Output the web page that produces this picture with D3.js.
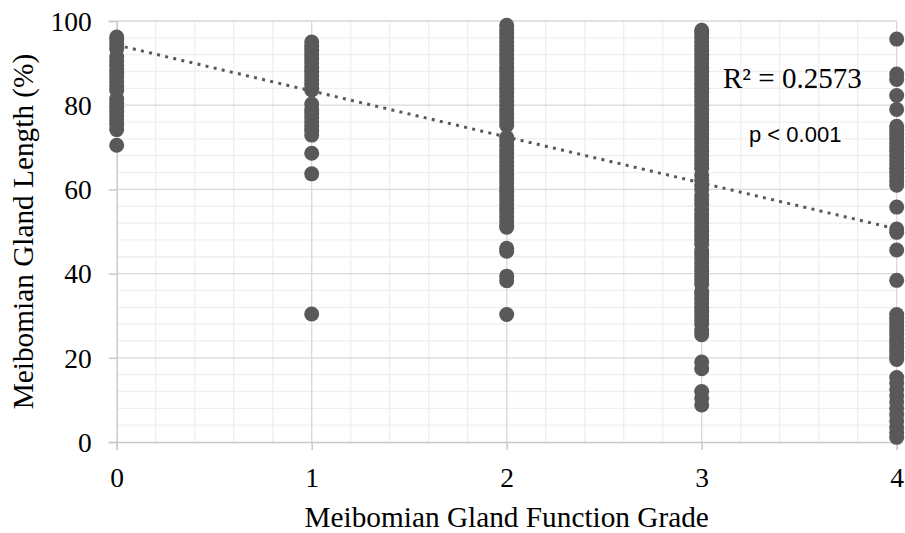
<!DOCTYPE html>
<html>
<head>
<meta charset="utf-8">
<script src="https://cdn.jsdelivr.net/npm/d3@7/dist/d3.min.js"></script>
<style>
  html, body { margin: 0; padding: 0; background: #ffffff; }
  svg { display: block; }
</style>
</head>
<body>
<svg id="chart" width="905" height="533"></svg>
<script>
// ---- Data ----
const grades = [0, 1, 2, 3, 4];
const grade0 = [96.2, 95.5, 94.5, 93.4, 91.5, 90.5, 89.5, 88.5, 87.5, 86.5, 85.5, 84.5, 83.5, 81.5, 80.5, 79.5, 78.5, 77.5, 76.5, 75.5, 74.2, 70.5];
const grade1 = [95, 94, 93, 92, 91, 90, 89, 88, 87, 86, 85, 84, 83.6, 80.3, 79, 78, 77, 76, 75, 74, 72.9, 68.6, 63.7, 30.4];
const grade2 = [99, 98, 97, 96, 95, 94, 93, 92, 91, 90, 89, 88, 87, 86, 85, 84, 83, 82, 81, 80, 79, 78, 77, 76, 75.2, 72.3, 71.5, 70.5, 69.5, 68.5, 67.5, 66.5, 65.5, 64.5, 63.5, 62.5, 61.5, 60.5, 59.5, 58.5, 57.5, 56.5, 55.5, 54.5, 53.5, 52.5, 51.5, 51, 46, 45.3, 39.4, 38.3, 30.3];
const grade3 = [97.8, 97, 96, 95, 94, 93, 92, 91, 90, 89, 88, 87, 86, 85, 84, 83, 82, 81, 80, 79, 78, 77, 76, 75, 74, 73, 72, 71, 70, 69, 68, 67, 66, 65, 63.3, 62.2, 61, 60, 58.6, 57.5, 56.5, 55.3, 54, 53, 52, 51, 50, 49, 48, 47, 45.4, 44.5, 43.5, 42.5, 41.5, 40.5, 39.5, 38.5, 37.5, 35.8, 35, 34, 33, 32, 31, 30, 29, 28, 26.5, 25.5, 19, 17.4, 12, 10.4, 8.8];
const grade4 = [95.7, 87.4, 86.1, 82.3, 79, 75, 74, 73, 72, 71, 70, 69, 68, 67, 66, 65, 64, 63, 62, 61, 55.8, 50.6, 49.8, 45.6, 38.4, 30.3, 29.4, 28.5, 27.5, 26.5, 25.5, 24.4, 23.4, 22.5, 21.5, 20.5, 19.6, 15.3, 14, 12.5, 11, 9.5, 8, 6.5, 5, 3.5, 2.2, 1.1];
const trendX = [0, 4];
const trendY = [94.3, 50.6];
const yTicks = [0, 20, 40, 60, 80, 100];
const xTicks = [0, 1, 2, 3, 4];
const xTitle = "Meibomian Gland Function Grade";
const yTitle = "Meibomian Gland Length (%)";
const r2Label = "R² = 0.2573";
const pLabel = "p < 0.001";

// ---- Build table ----
const columns = [grade0, grade1, grade2, grade3, grade4];
const points = [];
columns.forEach((vals, i) => vals.forEach(v => points.push({ x: grades[i], y: v })));

// ---- Layout ----
const svg = d3.select("#chart");
const pLeft = 116.7, pRight = 896.7, pTop = 21, pBottom = 442;
const x = d3.scaleLinear().domain([0, 4]).range([pLeft, pRight]);
const y = d3.scaleLinear().domain([0, 100]).range([pBottom, pTop]);

const color = "#595959";

// Minor gridlines
const g = svg.append("g");
const minorX = d3.range(0, 4.0001, 0.2).filter(v => Math.abs(v - Math.round(v)) > 1e-6);
const minorY = d3.range(0, 100.0001, 4).filter(v => v % 20 !== 0);
g.selectAll(".mx").data(minorX).join("line")
  .attr("x1", d => x(d)).attr("x2", d => x(d)).attr("y1", pTop).attr("y2", pBottom)
  .attr("stroke", "#efefef").attr("stroke-width", 1.3);
g.selectAll(".my").data(minorY).join("line")
  .attr("x1", pLeft).attr("x2", pRight).attr("y1", d => y(d)).attr("y2", d => y(d))
  .attr("stroke", "#efefef").attr("stroke-width", 1.3);

// Major gridlines
g.selectAll(".Mx").data(xTicks.slice(1)).join("line")
  .attr("x1", d => x(d)).attr("x2", d => x(d)).attr("y1", pTop).attr("y2", pBottom)
  .attr("stroke", "#d9d9d9").attr("stroke-width", 1.3);
g.selectAll(".My").data(yTicks.slice(1)).join("line")
  .attr("x1", pLeft).attr("x2", pRight).attr("y1", d => y(d)).attr("y2", d => y(d))
  .attr("stroke", "#d9d9d9").attr("stroke-width", 1.3);

// Axes
const xAxis = d3.axisBottom(x).tickValues(xTicks).tickSize(8).tickPadding(17).tickFormat(d3.format("d"));
const yAxis = d3.axisLeft(y).tickValues(yTicks).tickSize(8).tickPadding(17).tickFormat(d3.format("d"));
const gx = svg.append("g").attr("transform", `translate(0,${pBottom})`).call(xAxis);
const gy = svg.append("g").attr("transform", `translate(${pLeft},0)`).call(yAxis);
[gx, gy].forEach(a => {
  a.select(".domain").attr("stroke", "#c9c9c9").attr("stroke-width", 1.5);
  a.selectAll(".tick line").attr("stroke", "#c9c9c9").attr("stroke-width", 1.5);
  a.selectAll(".tick text").attr("fill", "#000").attr("font-family", "'Liberation Serif', 'Times New Roman', serif").attr("font-size", "27.5px");
});
gy.selectAll(".tick text").attr("dy", "0.34em");
gx.selectAll(".tick text").attr("dy", "0.72em");

// Points
svg.append("g").selectAll("circle").data(points).join("circle")
  .attr("cx", d => x(d.x)).attr("cy", d => y(d.y)).attr("r", 7.5)
  .attr("fill", color);

// Trendline
svg.append("line")
  .attr("x1", x(trendX[0])).attr("y1", y(trendY[0]))
  .attr("x2", x(trendX[1])).attr("y2", y(trendY[1]))
  .attr("stroke", color).attr("stroke-width", 3)
  .attr("stroke-dasharray", "3 5.3");

// Annotations
svg.append("text").attr("x", 723).attr("y", 88)
  .attr("font-family", "'Liberation Serif', 'Times New Roman', serif").attr("font-size", "29px")
  .attr("fill", "#000").text(r2Label);
svg.append("text").attr("x", 749).attr("y", 142)
  .attr("font-family", "'Liberation Sans', Arial, sans-serif").attr("font-size", "22px")
  .attr("fill", "#000").text(pLabel);

// Titles
svg.append("text").attr("x", (pLeft + pRight) / 2).attr("y", 527)
  .attr("text-anchor", "middle")
  .attr("font-family", "'Liberation Serif', 'Times New Roman', serif").attr("font-size", "29.3px")
  .attr("fill", "#000").text(xTitle);
svg.append("text").attr("transform", `translate(33,${(pTop + pBottom) / 2}) rotate(-90)`)
  .attr("text-anchor", "middle")
  .attr("font-family", "'Liberation Serif', 'Times New Roman', serif").attr("font-size", "29.3px")
  .attr("fill", "#000").text(yTitle);
</script>
</body>
</html>
